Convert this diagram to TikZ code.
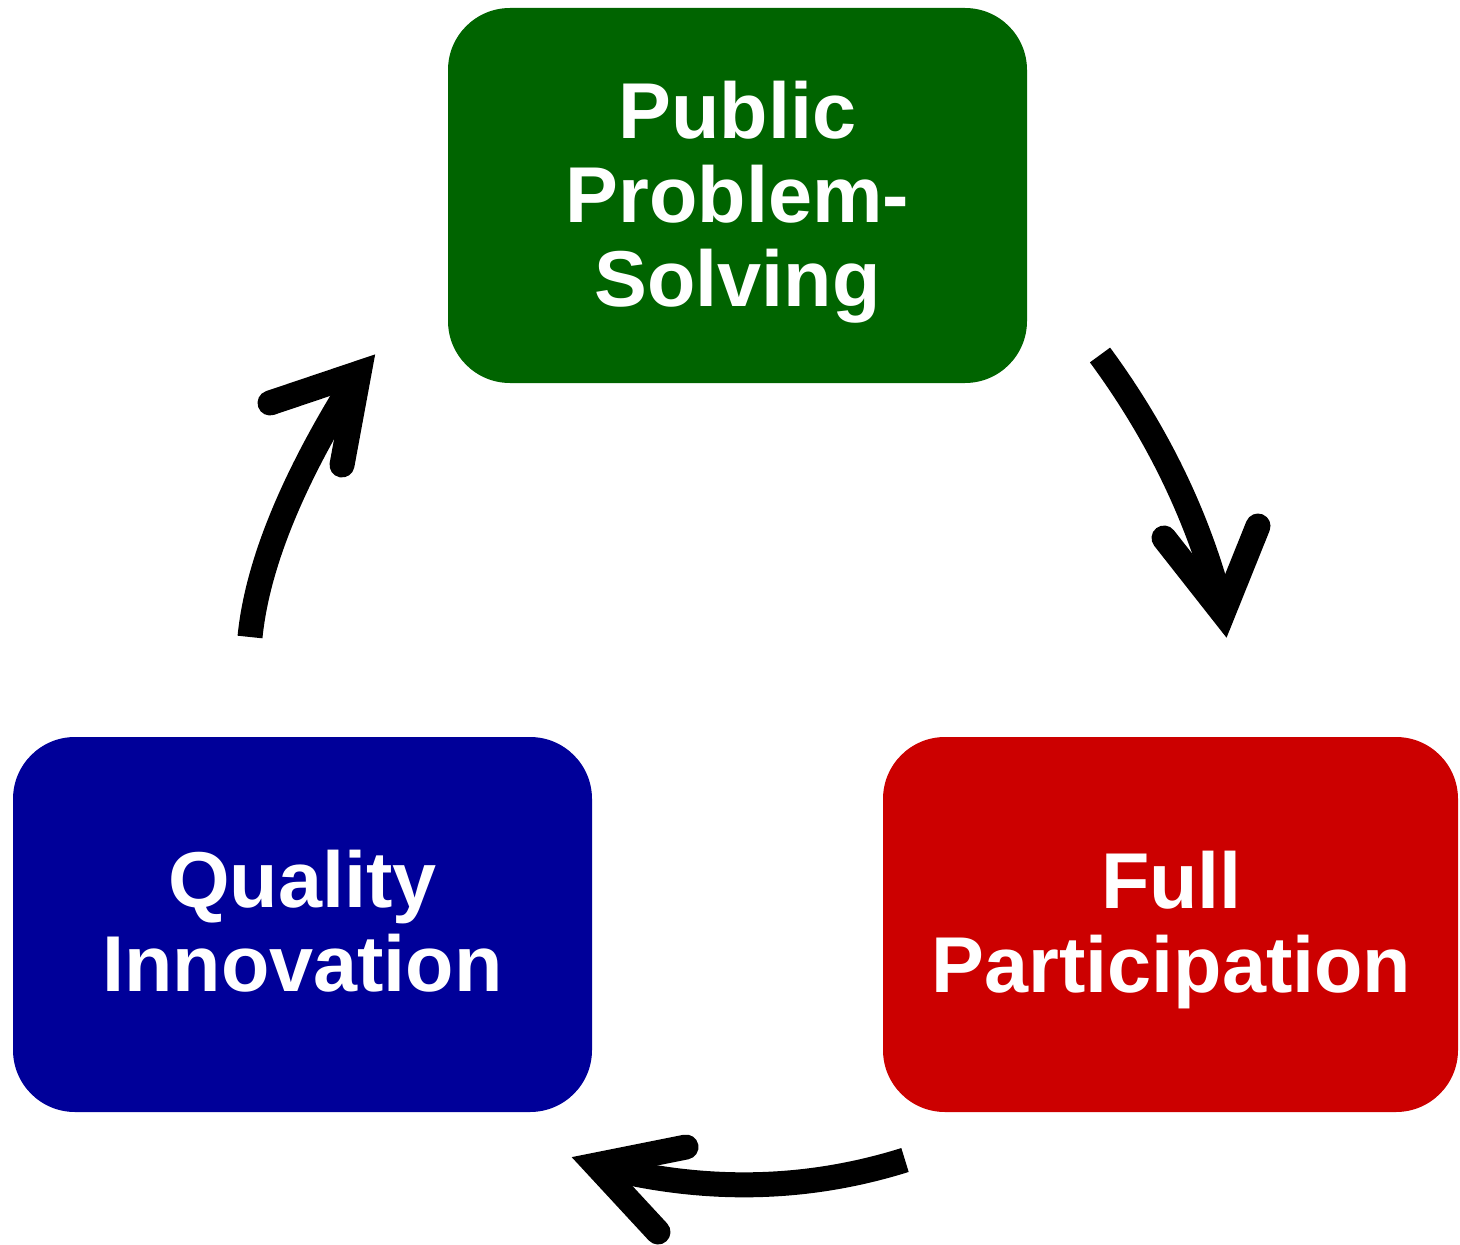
\documentclass[tikz,border=0pt]{standalone}
\usepackage{fontspec}
\setmainfont{Liberation Sans}
\usetikzlibrary{calc}
\definecolor{psgreen}{RGB}{0,100,0}
\definecolor{qiblue}{RGB}{0,0,153}
\definecolor{fpred}{RGB}{204,0,0}
\begin{document}
\begin{tikzpicture}[x=0.75pt,y=-0.75pt,
  box/.style={rectangle,rounded corners=46.5pt,minimum width=434.25pt,minimum height=281.25pt,inner sep=0pt,draw=none},
  boxtext/.style={text=white,font=\fontsize{59.4pt}{63pt}\selectfont\bfseries,align=center,inner sep=0pt,anchor=north},
  stem/.style={line width=18.75pt,line cap=butt,draw=black},
  head/.style={line width=18.75pt,line cap=round,line join=miter,draw=black}]
\useasboundingbox (0,0) rectangle (1460,1245);

% boxes
\node[box,fill=psgreen] (pps) at (737.5,195.5) {};
\node[boxtext] (ppstext) at (737.5,80.5) {Public\\Problem-\\Solving};

\node[box,fill=qiblue] (qi) at (302.5,924.5) {};
\node[boxtext] (qitext) at (302.5,849.5) {Quality\\Innovation};

\node[box,fill=fpred,minimum width=431.25pt] (fp) at (1170.5,924.5) {};
\node[boxtext] (fptext) at (1171.5,850.5) {Full\\Participation};

% arrow 1: top -> right
\coordinate (s1) at (1100,355);
\coordinate (q1) at (1189,476);
\coordinate (v1) at (1223,613);
\coordinate (h1a) at (1164,538);
\coordinate (h1b) at (1258,526);
\draw[stem] (s1) .. controls ($(s1)!2/3!(q1)$) and ($(v1)!2/3!(q1)$) .. (v1);
\draw[head] (h1a) -- (v1) -- (h1b);

% arrow 2: right -> left (bottom)
\coordinate (s2) at (905,1160);
\coordinate (q2) at (755,1207);
\coordinate (v2) at (596,1165);
\coordinate (h2a) at (686,1147);
\coordinate (h2b) at (658,1232);
\draw[stem] (s2) .. controls ($(s2)!2/3!(q2)$) and ($(v2)!2/3!(q2)$) .. (v2);
\draw[head] (h2a) -- (v2) -- (h2b);

% arrow 3: left -> top
\coordinate (s3) at (250,637);
\coordinate (q3) at (261,527);
\coordinate (v3) at (359,373);
\coordinate (h3a) at (270,403);
\coordinate (h3b) at (342,465);
\draw[stem] (s3) .. controls ($(s3)!2/3!(q3)$) and ($(v3)!2/3!(q3)$) .. (v3);
\draw[head] (h3a) -- (v3) -- (h3b);
\end{tikzpicture}
\end{document}
